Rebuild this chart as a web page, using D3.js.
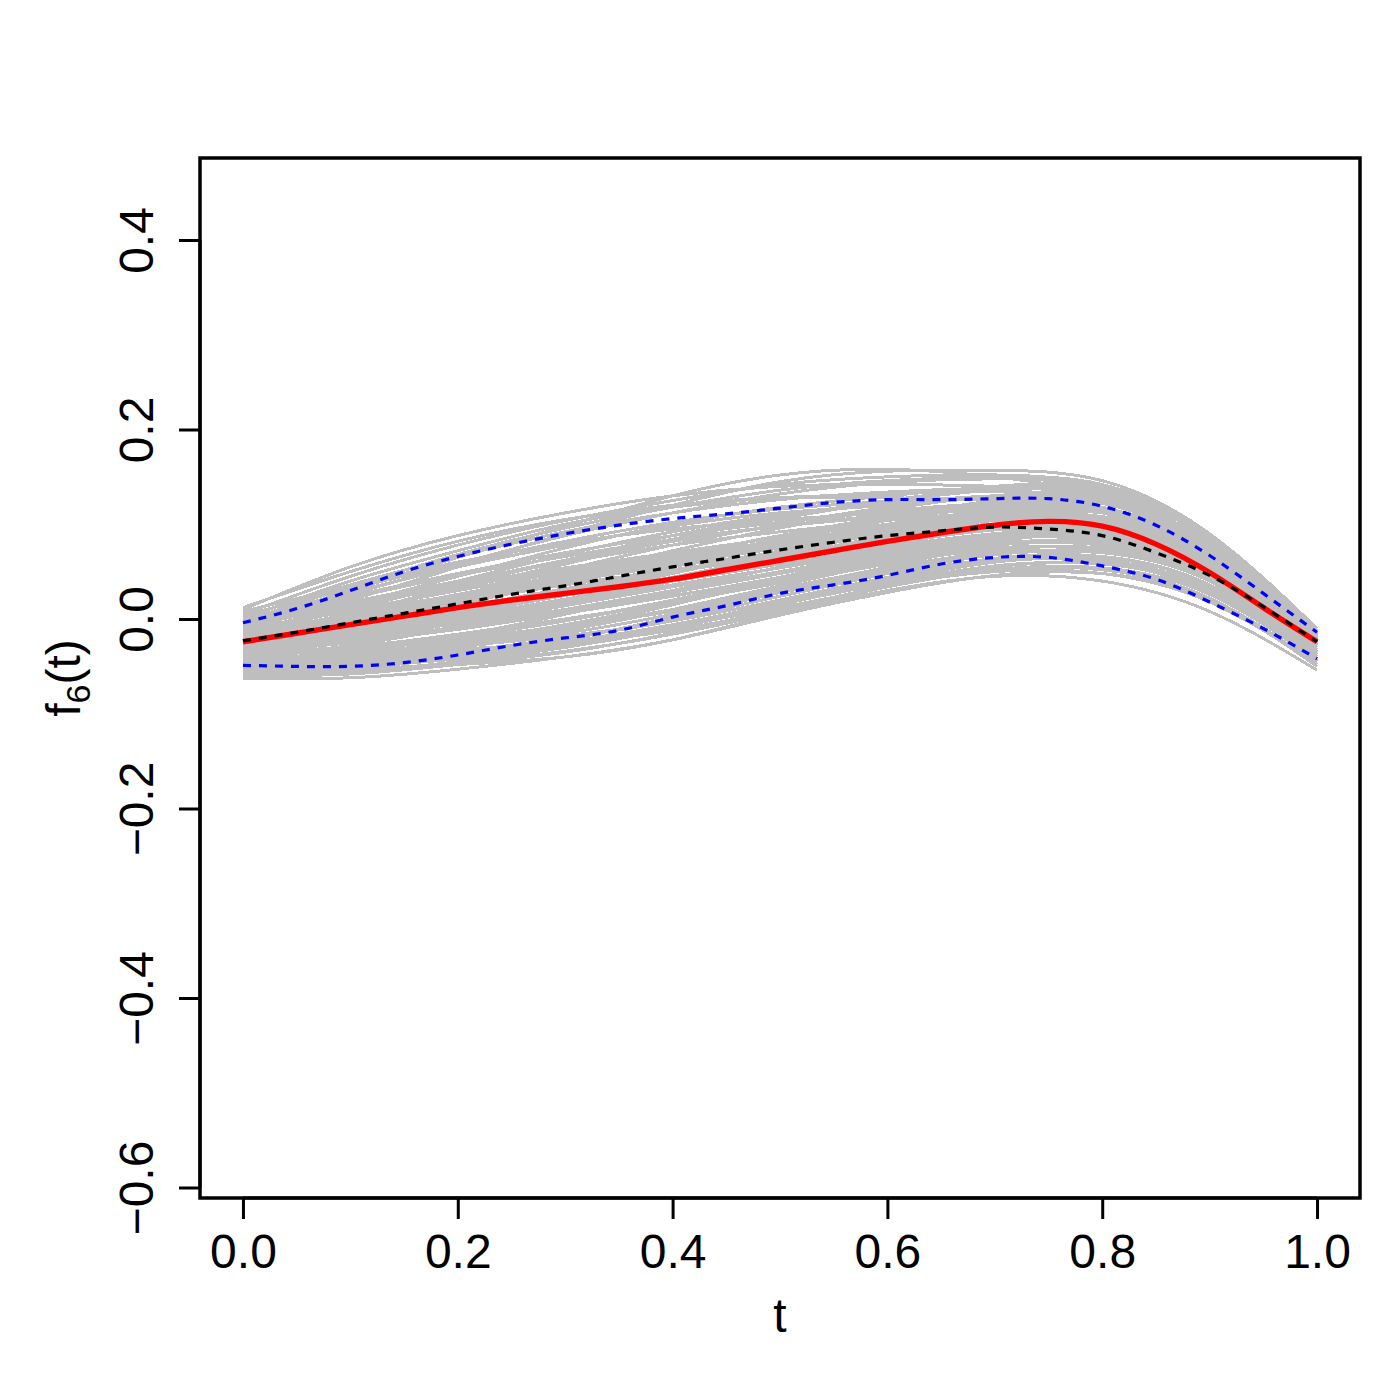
<!DOCTYPE html>
<html>
<head>
<meta charset="utf-8">
<script src="https://cdn.jsdelivr.net/npm/d3@7"></script>
<style>
  html, body { margin: 0; padding: 0; background: #fff; }
  svg { display: block; }
  text { font-family: "Liberation Sans", Arial, sans-serif; fill: #000; }
</style>
</head>
<body>
<svg id="chart" width="1400" height="1400"></svg>
<script>
// ---------- data ----------
const xTicks = [0.0, 0.2, 0.4, 0.6, 0.8, 1.0];
const xTickLabels = ["0.0", "0.2", "0.4", "0.6", "0.8", "1.0"];
const yTicks = [0.4, 0.2, 0.0, -0.2, -0.4, -0.6];
const yTickLabels = ["0.4", "0.2", "0.0", "\u22120.2", "\u22120.4", "\u22120.6"];

// grid for the gray sample curves
const tGray = [0, 0.1, 0.2, 0.3, 0.4, 0.5, 0.6, 0.7, 0.8, 0.9, 1.0];
const grayCurves = [
  [0.010, 0.055, 0.088, 0.112, 0.130, 0.140, 0.142, 0.140, 0.128, 0.080, -0.012],
  [0.005, 0.045, 0.078, 0.104, 0.125, 0.142, 0.150, 0.152, 0.140, 0.085, -0.015],
  [-0.010, 0.020, 0.055, 0.090, 0.120, 0.145, 0.156, 0.157, 0.146, 0.090, -0.010],
  [-0.005, 0.030, 0.065, 0.098, 0.130, 0.152, 0.158, 0.150, 0.130, 0.078, -0.018],
  [0.000, 0.040, 0.072, 0.100, 0.118, 0.128, 0.132, 0.135, 0.125, 0.078, -0.015],
  [-0.015, 0.015, 0.045, 0.075, 0.100, 0.118, 0.130, 0.140, 0.138, 0.088, -0.012],
  [-0.020, 0.005, 0.035, 0.062, 0.088, 0.108, 0.125, 0.138, 0.135, 0.085, -0.015],
  [-0.025, 0.000, 0.025, 0.052, 0.078, 0.100, 0.118, 0.130, 0.125, 0.080, -0.018],
  [-0.030, -0.010, 0.015, 0.040, 0.065, 0.088, 0.105, 0.118, 0.115, 0.072, -0.020],
  [-0.035, -0.020, 0.005, 0.030, 0.055, 0.078, 0.098, 0.110, 0.108, 0.068, -0.025],
  [-0.040, -0.028, -0.008, 0.015, 0.040, 0.065, 0.088, 0.104, 0.102, 0.064, -0.028],
  [-0.045, -0.035, -0.018, 0.005, 0.030, 0.055, 0.078, 0.095, 0.095, 0.058, -0.030],
  [-0.050, -0.045, -0.030, -0.010, 0.015, 0.042, 0.065, 0.085, 0.088, 0.052, -0.035],
  [-0.055, -0.052, -0.040, -0.022, 0.002, 0.028, 0.052, 0.072, 0.075, 0.045, -0.038],
  [-0.060, -0.058, -0.048, -0.035, -0.015, 0.010, 0.035, 0.055, 0.058, 0.030, -0.045],
  [-0.063, -0.062, -0.053, -0.040, -0.022, 0.004, 0.028, 0.046, 0.048, 0.020, -0.050],
  [-0.050, -0.052, -0.048, -0.040, -0.022, 0.006, 0.030, 0.045, 0.040, 0.008, -0.054],
  [-0.045, -0.040, -0.032, -0.025, -0.012, 0.010, 0.035, 0.050, 0.048, 0.018, -0.048],
  [-0.038, -0.030, -0.020, -0.008, 0.008, 0.028, 0.048, 0.062, 0.060, 0.028, -0.042],
  [-0.028, -0.018, -0.005, 0.010, 0.025, 0.042, 0.060, 0.075, 0.072, 0.040, -0.035],
  [-0.018, -0.005, 0.010, 0.025, 0.040, 0.058, 0.075, 0.088, 0.085, 0.050, -0.030],
  [-0.010, 0.008, 0.025, 0.042, 0.058, 0.075, 0.090, 0.100, 0.095, 0.058, -0.025],
  [-0.005, 0.018, 0.040, 0.060, 0.078, 0.092, 0.104, 0.112, 0.105, 0.062, -0.022],
  [0.008, 0.035, 0.060, 0.080, 0.095, 0.105, 0.112, 0.118, 0.112, 0.068, -0.020],
  [0.012, 0.050, 0.082, 0.105, 0.120, 0.128, 0.128, 0.125, 0.112, 0.065, -0.022],
  [-0.022, -0.012, 0.005, 0.025, 0.048, 0.072, 0.092, 0.108, 0.108, 0.070, -0.020],
  [-0.032, -0.022, -0.010, 0.008, 0.030, 0.055, 0.080, 0.100, 0.105, 0.072, -0.015],
  [-0.042, -0.038, -0.028, -0.012, 0.010, 0.035, 0.060, 0.082, 0.088, 0.060, -0.020],
  [-0.015, 0.010, 0.038, 0.062, 0.082, 0.098, 0.110, 0.122, 0.122, 0.080, -0.015],
  [-0.025, -0.008, 0.015, 0.040, 0.065, 0.088, 0.108, 0.125, 0.128, 0.085, -0.012],
  [-0.048, -0.042, -0.030, -0.015, 0.005, 0.030, 0.055, 0.078, 0.082, 0.050, -0.035],
  [-0.052, -0.050, -0.042, -0.028, -0.008, 0.018, 0.042, 0.062, 0.065, 0.035, -0.042],
  [0.000, 0.028, 0.055, 0.078, 0.098, 0.112, 0.120, 0.128, 0.122, 0.075, -0.018],
  [-0.035, -0.025, -0.010, 0.008, 0.028, 0.048, 0.068, 0.085, 0.085, 0.052, -0.030],
  [-0.012, 0.002, 0.020, 0.040, 0.060, 0.080, 0.098, 0.112, 0.112, 0.070, -0.020],
  [-0.058, -0.056, -0.045, -0.030, -0.010, 0.015, 0.040, 0.060, 0.062, 0.030, -0.045],
  [-0.020, -0.002, 0.018, 0.036, 0.052, 0.068, 0.083, 0.094, 0.090, 0.054, -0.026],
  [-0.026, -0.010, 0.008, 0.026, 0.044, 0.062, 0.080, 0.094, 0.094, 0.060, -0.024],
  [-0.030, -0.016, 0.000, 0.018, 0.036, 0.054, 0.072, 0.088, 0.090, 0.056, -0.028],
  [-0.016, 0.004, 0.026, 0.046, 0.064, 0.080, 0.094, 0.104, 0.100, 0.062, -0.022],
  [-0.008, 0.014, 0.034, 0.052, 0.068, 0.082, 0.095, 0.106, 0.104, 0.066, -0.020],
  [-0.036, -0.024, -0.008, 0.010, 0.030, 0.050, 0.070, 0.086, 0.086, 0.054, -0.030],
  [-0.044, -0.034, -0.020, -0.002, 0.018, 0.040, 0.062, 0.078, 0.078, 0.046, -0.034],
  [-0.040, -0.032, -0.022, -0.008, 0.010, 0.032, 0.054, 0.070, 0.070, 0.040, -0.038],
  [-0.004, 0.022, 0.046, 0.066, 0.084, 0.098, 0.108, 0.116, 0.112, 0.070, -0.018],
  [0.004, 0.032, 0.058, 0.082, 0.102, 0.116, 0.124, 0.128, 0.118, 0.072, -0.018],
  [-0.012, 0.012, 0.040, 0.068, 0.092, 0.110, 0.122, 0.130, 0.124, 0.078, -0.016],
  [-0.018, 0.006, 0.032, 0.058, 0.084, 0.106, 0.124, 0.136, 0.132, 0.084, -0.014],
  [-0.022, -0.004, 0.020, 0.046, 0.072, 0.096, 0.116, 0.130, 0.130, 0.086, -0.014],
  [-0.028, -0.014, 0.006, 0.030, 0.056, 0.082, 0.104, 0.120, 0.122, 0.082, -0.016],
  [-0.034, -0.022, -0.004, 0.018, 0.042, 0.068, 0.092, 0.110, 0.112, 0.074, -0.020],
  [-0.054, -0.048, -0.036, -0.020, 0.000, 0.024, 0.048, 0.068, 0.070, 0.040, -0.040],
  [-0.046, -0.042, -0.034, -0.020, -0.002, 0.020, 0.044, 0.064, 0.066, 0.036, -0.040],
  [-0.036, -0.034, -0.028, -0.018, -0.002, 0.020, 0.044, 0.062, 0.062, 0.032, -0.044],
  [-0.056, -0.054, -0.046, -0.034, -0.016, 0.008, 0.034, 0.052, 0.052, 0.022, -0.048],
  [0.002, 0.036, 0.066, 0.092, 0.112, 0.126, 0.134, 0.138, 0.130, 0.080, -0.016],
  [-0.008, 0.026, 0.058, 0.088, 0.112, 0.132, 0.144, 0.148, 0.138, 0.086, -0.014],
  [-0.002, 0.034, 0.068, 0.096, 0.118, 0.136, 0.146, 0.150, 0.142, 0.088, -0.012],
  [-0.024, -0.006, 0.016, 0.038, 0.060, 0.080, 0.100, 0.114, 0.112, 0.072, -0.022],
  [-0.032, -0.020, -0.002, 0.020, 0.044, 0.066, 0.086, 0.100, 0.098, 0.062, -0.026],
  [-0.042, -0.036, -0.024, -0.006, 0.016, 0.040, 0.064, 0.084, 0.084, 0.052, -0.032],
  [-0.014, 0.004, 0.022, 0.040, 0.056, 0.070, 0.084, 0.096, 0.096, 0.060, -0.024],
  [-0.006, 0.016, 0.036, 0.054, 0.070, 0.086, 0.100, 0.110, 0.108, 0.068, -0.020],
  [-0.048, -0.044, -0.036, -0.024, -0.006, 0.016, 0.038, 0.056, 0.058, 0.030, -0.044],
  [-0.021, -0.008, 0.012, 0.032, 0.050, 0.066, 0.082, 0.096, 0.096, 0.060, -0.024],
  [-0.027, -0.015, 0.002, 0.021, 0.040, 0.058, 0.076, 0.090, 0.090, 0.056, -0.027],
  [-0.033, -0.024, -0.011, 0.006, 0.024, 0.044, 0.064, 0.080, 0.080, 0.048, -0.032],
  [-0.039, -0.030, -0.016, 0.000, 0.018, 0.038, 0.058, 0.074, 0.074, 0.044, -0.035],
  [-0.011, 0.009, 0.030, 0.049, 0.066, 0.082, 0.096, 0.108, 0.106, 0.066, -0.021],
  [-0.017, 0.000, 0.022, 0.043, 0.062, 0.078, 0.092, 0.104, 0.102, 0.064, -0.022],
  [-0.003, 0.024, 0.048, 0.070, 0.088, 0.102, 0.114, 0.122, 0.116, 0.072, -0.018],
  [-0.044, -0.038, -0.026, -0.010, 0.010, 0.030, 0.050, 0.068, 0.070, 0.042, -0.036],
  [-0.050, -0.047, -0.039, -0.026, -0.008, 0.012, 0.034, 0.052, 0.054, 0.026, -0.044],
  [-0.029, -0.018, -0.004, 0.014, 0.034, 0.054, 0.074, 0.090, 0.092, 0.058, -0.026],
  [-0.037, -0.029, -0.017, -0.001, 0.020, 0.044, 0.068, 0.088, 0.090, 0.058, -0.026],
  [-0.024, -0.011, 0.008, 0.028, 0.050, 0.072, 0.094, 0.112, 0.116, 0.076, -0.018],
  [-0.019, -0.003, 0.018, 0.040, 0.062, 0.084, 0.104, 0.120, 0.122, 0.080, -0.016]
];

// grid for the summary curves
const tFine = [0, 0.05, 0.1, 0.15, 0.2, 0.25, 0.3, 0.35, 0.4, 0.45, 0.5,
               0.55, 0.6, 0.65, 0.7, 0.75, 0.8, 0.85, 0.9, 0.95, 1.0];
const upperBand = [-0.004, 0.011, 0.030, 0.050, 0.066, 0.079, 0.090, 0.099, 0.106, 0.111, 0.117,
                   0.123, 0.126, 0.126, 0.127, 0.127, 0.119, 0.099, 0.067, 0.027, -0.014];
const lowerBand = [-0.049, -0.050, -0.050, -0.046, -0.038, -0.028, -0.020, -0.012, 0.002, 0.014, 0.027,
                   0.036, 0.046, 0.058, 0.065, 0.065, 0.056, 0.042, 0.018, -0.010, -0.042];
const meanCurve = [-0.023, -0.014, -0.004, 0.006, 0.016, 0.026, 0.035, 0.045, 0.055, 0.064, 0.073,
                   0.081, 0.088, 0.093, 0.097, 0.095, 0.088, 0.070, 0.046, 0.013, -0.024];
const trueCurve = [-0.024, -0.015, -0.006, 0.003, 0.012, 0.020, 0.027, 0.034, 0.042, 0.052, 0.062,
                   0.072, 0.082, 0.091, 0.099, 0.103, 0.098, 0.079, 0.049, 0.012, -0.024];

// ---------- layout ----------
const svg = d3.select("#chart");
const L = 200, R = 1360, T = 158, B = 1198;
const x = d3.scaleLinear().domain([-0.04, 1.04]).range([L, R]);
const y = d3.scaleLinear().domain([-0.61108, 0.48654]).range([B, T]);

svg.append("defs").append("clipPath").attr("id", "clip")
  .append("rect").attr("x", L).attr("y", T).attr("width", R - L).attr("height", B - T);

const plot = svg.append("g").attr("clip-path", "url(#clip)");

const lineGen = (ts) => d3.line()
  .x((d, i) => x(ts[i]))
  .y(d => y(d))
  .curve(d3.curveNatural);

plot.selectAll("path.gray").data(grayCurves).enter().append("path")
  .attr("class", "gray")
  .attr("d", d => lineGen(tGray)(d))
  .attr("fill", "none")
  .attr("stroke", "#BEBEBE")
  .attr("stroke-width", 3)
  .attr("shape-rendering", "crispEdges");

plot.append("path").attr("d", lineGen(tFine)(trueCurve))
  .attr("fill", "none").attr("stroke", "#FF0000").attr("stroke-width", 5.4);

plot.append("path").attr("d", lineGen(tFine)(meanCurve))
  .attr("fill", "none").attr("stroke", "#000000").attr("stroke-width", 3.2)
  .attr("stroke-dasharray", "8,8");

[upperBand, lowerBand].forEach(b => {
  plot.append("path").attr("d", lineGen(tFine)(b))
    .attr("fill", "none").attr("stroke", "#0000FF").attr("stroke-width", 3.2)
    .attr("stroke-dasharray", "8,8");
});

// ---------- frame & axes ----------
svg.append("rect").attr("x", L).attr("y", T).attr("width", R - L).attr("height", B - T)
  .attr("fill", "none").attr("stroke", "#000").attr("stroke-width", 3.5);

const xAxis = d3.axisBottom(x).tickValues(xTicks)
  .tickFormat((d, i) => xTickLabels[i]).tickSize(21).tickPadding(15);
const gx = svg.append("g").attr("transform", `translate(0,${B})`).call(xAxis);
gx.select(".domain").attr("d", `M${x(0)},0H${x(1)}`).attr("stroke-width", 3);
gx.selectAll(".tick line").attr("stroke-width", 3);
gx.selectAll(".tick text").attr("font-size", 48)
  .attr("font-family", "'Liberation Sans', Arial, sans-serif").attr("fill", "#000");

const yAxis = d3.axisLeft(y).tickValues(yTicks)
  .tickFormat((d, i) => yTickLabels[i]).tickSize(21).tickPadding(26);
const gy = svg.append("g").attr("transform", `translate(${L},0)`).call(yAxis);
gy.select(".domain").attr("d", `M0,${y(-0.6)}V${y(0.4)}`).attr("stroke-width", 3);
gy.selectAll(".tick line").attr("stroke-width", 3);
gy.selectAll(".tick text")
  .attr("font-size", 48)
  .attr("font-family", "'Liberation Sans', Arial, sans-serif").attr("fill", "#000")
  .attr("text-anchor", "middle")
  .attr("x", null).attr("dy", null)
  .attr("transform", "translate(-47,0) rotate(-90)");

// axis titles
svg.append("text").attr("x", (L + R) / 2).attr("y", 1332)
  .attr("text-anchor", "middle").attr("font-size", 48).text("t");

const yl = svg.append("text")
  .attr("transform", `translate(80,${(T + B) / 2}) rotate(-90)`)
  .attr("text-anchor", "middle").attr("font-size", 48);
yl.append("tspan").text("f");
yl.append("tspan").attr("font-size", 34).attr("dy", 10).text("6");
yl.append("tspan").attr("dy", -10).text("(t)");
</script>
</body>
</html>
